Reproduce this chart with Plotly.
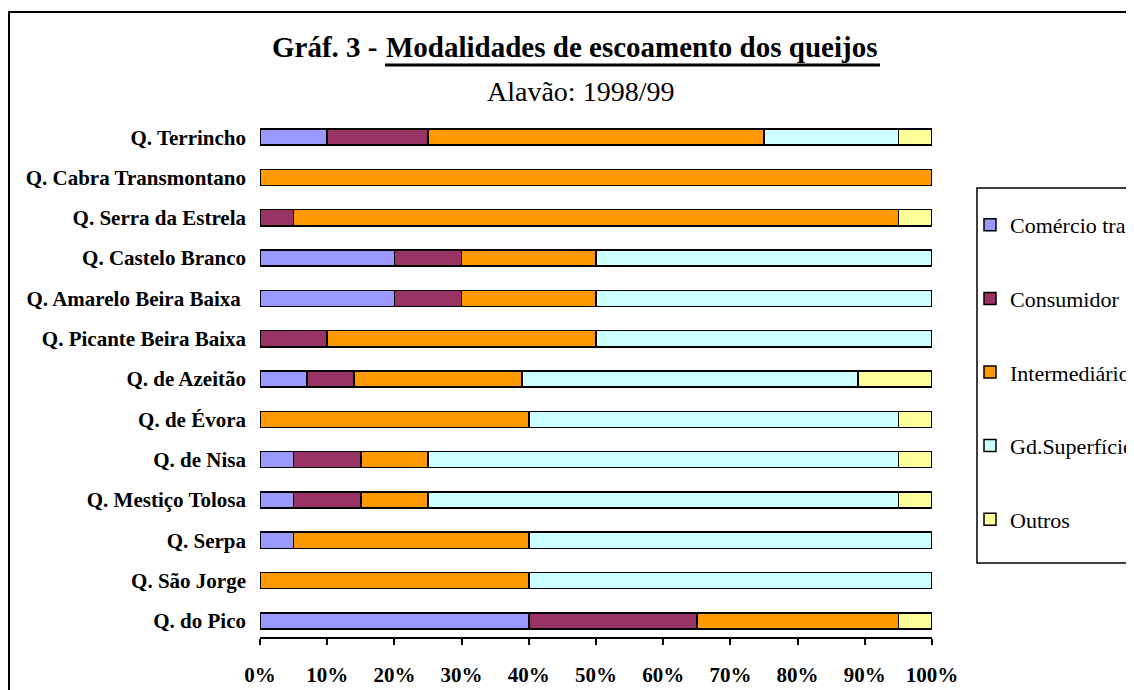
import plotly.graph_objects as go

categories = ["Q. Terrincho", "Q. Cabra Transmontano", "Q. Serra da Estrela", "Q. Castelo Branco",
              "Q. Amarelo Beira Baixa ", "Q. Picante Beira Baixa", "Q. de Azeitão", "Q. de Évora",
              "Q. de Nisa", "Q. Mestiço Tolosa", "Q. Serpa", "Q. São Jorge", "Q. do Pico"]
comercio = [10, 0, 0, 20, 20, 0, 7, 0, 5, 5, 5, 0, 40]
consumidor = [15, 0, 5, 10, 10, 10, 7, 0, 10, 10, 0, 0, 25]
intermediario = [50, 100, 90, 20, 20, 40, 25, 40, 10, 10, 35, 40, 30]
gd_superficies = [20, 0, 0, 50, 50, 50, 50, 55, 70, 70, 60, 60, 0]
outros = [5, 0, 5, 0, 0, 0, 11, 5, 5, 5, 0, 0, 5]
x_ticks = [0, 10, 20, 30, 40, 50, 60, 70, 80, 90, 100]

series = [
    ("Comércio tradicional", comercio, "#9999FF"),
    ("Consumidor", consumidor, "#993366"),
    ("Intermediário", intermediario, "#FF9900"),
    ("Gd.Superfícies", gd_superficies, "#CCFFFF"),
    ("Outros", outros, "#FFFF99"),
]

FONT = "Liberation Serif"
fig = go.Figure()
for i, (name, vals, col) in enumerate(series):
    fig.add_trace(go.Bar(
        y=categories, x=vals, name=name, orientation="h",
        marker=dict(color=col, line=dict(color="black", width=1.5)),
        legendgroup=f"g{i}",
    ))

# page body has an 8px margin; work in reference (window) pixel coordinates
OFF = 8
W, H = 1134 - OFF, 690 - OFF
L = 260 - OFF
R = W - (932 - OFF)
T = 117 - OFF
B = H - (637 - OFF)
pw, ph = W - L - R, H - T - B

def px(x):
    return (x - OFF - L) / pw

def py(y):
    return (H - B - (y - OFF)) / ph

fig.update_layout(
    width=W, height=H,
    margin=dict(l=L, r=R, t=T, b=B, autoexpand=False),
    barmode="stack", bargap=0.6,
    plot_bgcolor="white", paper_bgcolor="white",
    font=dict(family=FONT, color="black"),
    showlegend=True,
    legend=dict(
        x=px(970), y=py(204), xanchor="left", yanchor="top",
        borderwidth=0, bgcolor="rgba(0,0,0,0)",
        font=dict(family=FONT, size=22), tracegroupgap=42,
        traceorder="grouped",
    ),
    xaxis=dict(
        range=[0, 100], tickvals=x_ticks, ticktext=[f"{v}%" for v in x_ticks],
        showgrid=False, zeroline=False, showline=True, linecolor="black", linewidth=1.5,
        ticks="outside", ticklen=6, tickwidth=1.5, tickcolor="black",
        tickfont=dict(family=FONT, size=21, color="black", weight="bold"),
        ticklabelstandoff=12, fixedrange=True,
    ),
    yaxis=dict(
        categoryorder="array", categoryarray=list(reversed(categories)),
        range=[-0.4, 12.5], showgrid=False, zeroline=False, showline=False,
        ticks="", tickfont=dict(family=FONT, size=21, color="black", weight="bold"),
        ticklabelstandoff=13, fixedrange=True,
    ),
    annotations=[
        dict(text="<b>Gráf. 3 -</b>",
             x=px(380), y=py(47), xref="paper", yref="paper", showarrow=False,
             xanchor="right", yanchor="middle", font=dict(family=FONT, size=29)),
        dict(text="<b>Modalidades de escoamento dos queijos</b>",
             x=px(384), y=py(47), xref="paper", yref="paper", showarrow=False,
             xanchor="left", yanchor="middle", font=dict(family=FONT, size=29)),
        dict(text="Alavão: 1998/99",
             x=px(580), y=py(92), xref="paper", yref="paper", showarrow=False,
             xanchor="center", yanchor="middle", font=dict(family=FONT, size=28)),
    ],
    shapes=[
        dict(type="rect", xref="paper", yref="paper", x0=px(9), y0=py(720), x1=px(1160), y1=py(12),
             line=dict(color="black", width=2), fillcolor="rgba(0,0,0,0)", layer="below"),
        dict(type="rect", xref="paper", yref="paper", x0=px(977), y0=py(563), x1=px(1160), y1=py(188),
             line=dict(color="black", width=1.5), fillcolor="rgba(0,0,0,0)", layer="below"),
        dict(type="line", xref="paper", yref="paper", x0=px(385), x1=px(880), y0=py(65), y1=py(65),
             line=dict(color="black", width=3)),
    ],
)

fig.write_html("out.html")
